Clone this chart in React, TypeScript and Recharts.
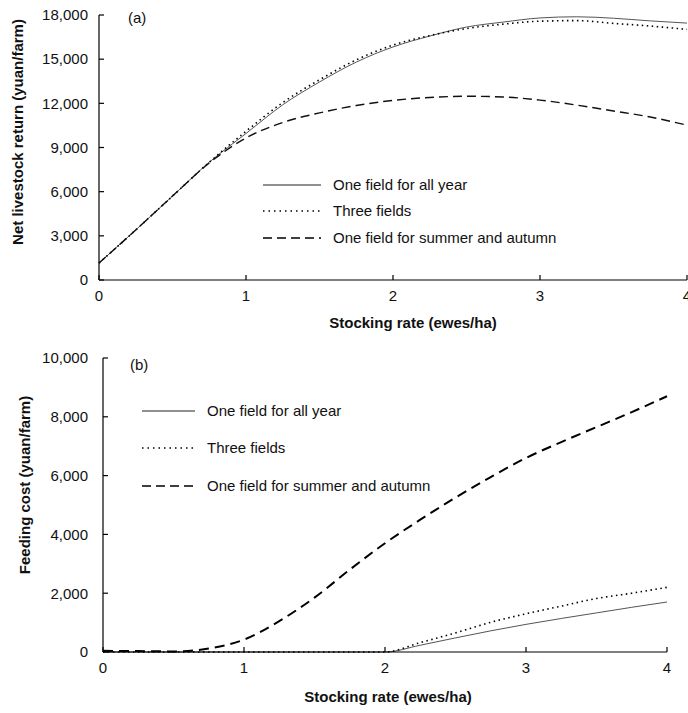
import React from 'react';
import { LineChart, Line, XAxis, YAxis, Legend } from 'recharts';

const FONT = '"Liberation Sans", Arial, sans-serif';

// stocking rate (ewes/ha)
const rates = [0, 0.25, 0.5, 0.75, 1, 1.25, 1.5, 1.75, 2, 2.25, 2.5, 2.75, 3, 3.25, 3.5, 3.75, 4];

// (a) net livestock return, yuan/farm
const returnOneField = [1150, 3400, 5700, 8000, 9950, 11900, 13450, 14800, 15830, 16570, 17180, 17520, 17800, 17880, 17780, 17600, 17450];
const returnThreeFields = [1150, 3400, 5700, 8000, 10100, 12050, 13600, 14950, 15960, 16600, 17080, 17380, 17580, 17620, 17430, 17250, 17020];
const returnSummerAutumn = [1150, 3400, 5700, 7950, 9650, 10700, 11350, 11850, 12200, 12400, 12480, 12430, 12220, 11880, 11480, 11070, 10520];

// (b) feeding cost, yuan/farm
const costOneField = [0, 0, 0, 0, 0, 0, 0, 0, 0, 230, 480, 720, 940, 1140, 1330, 1520, 1700];
const costThreeFields = [0, 0, 0, 0, 0, 0, 0, 0, 0, 320, 650, 1010, 1300, 1560, 1820, 2000, 2200];
const costSummerAutumn = [40, 30, 20, 120, 420, 1050, 1850, 2800, 3700, 4500, 5250, 5950, 6600, 7140, 7650, 8160, 8700];

const returnTicks = [0, 3000, 6000, 9000, 12000, 15000, 18000];
const costTicks = [0, 2000, 4000, 6000, 8000, 10000];
const rateTicks = [0, 1, 2, 3, 4];

const seriesNames = ['One field for all year', 'Three fields', 'One field for summer and autumn'];

const returnRows = rates.map((rate, i) => ({
  rate,
  one: returnOneField[i],
  three: returnThreeFields[i],
  summer: returnSummerAutumn[i],
}));

const costRows = rates.map((rate, i) => ({
  rate,
  one: costOneField[i],
  three: costThreeFields[i],
  summer: costSummerAutumn[i],
}));

const fmt = (v: number) => v.toLocaleString('en-US');

const tickStyle = { fill: '#111', fontSize: 15, fontFamily: FONT };
const axisStroke = { stroke: '#000', strokeWidth: 1.2 };

// line looks for the legend samples
const legendLines = [
  { stroke: '#222', width: 1.2, dash: undefined as string | undefined },
  { stroke: '#000', width: 1.5, dash: '1.5 4' },
  { stroke: '#000', width: 1.5, dash: '9 5' },
];

function PanelOverlay({ panel, panelX, panelY, lineX, lineW, textX, rowYs }: any) {
  return (
    <div style={{ position: 'relative', width: 688, height: 0, fontFamily: FONT, fontSize: 15, color: '#111' }}>
      <div style={{ position: 'absolute', left: panelX, top: panelY - 9, lineHeight: '18px', whiteSpace: 'nowrap' }}>
        {panel}
      </div>
      {seriesNames.map((name, i) => (
        <div
          key={name}
          style={{
            position: 'absolute',
            left: lineX,
            top: rowYs[i] - 9,
            height: 18,
            display: 'flex',
            alignItems: 'center',
            whiteSpace: 'nowrap',
          }}
        >
          <svg width={lineW} height={4} style={{ display: 'block' }}>
            <line
              x1={0}
              y1={2}
              x2={lineW}
              y2={2}
              stroke={legendLines[i].stroke}
              strokeWidth={legendLines[i].width}
              strokeDasharray={legendLines[i].dash}
            />
          </svg>
          <span style={{ marginLeft: textX - lineX - lineW, lineHeight: '18px' }}>{name}</span>
        </div>
      ))}
    </div>
  );
}

const xTitle = (x: number, y: number) => () => (
  <text x={x} y={y} textAnchor="middle" fontFamily={FONT} fontSize={15} fontWeight="bold" fill="#111">
    Stocking rate (ewes/ha)
  </text>
);

const yTitle = (x: number, y: number, value: string) => () => (
  <text
    x={x}
    y={y}
    textAnchor="middle"
    transform={`rotate(-90 ${x} ${y})`}
    fontFamily={FONT}
    fontSize={15}
    fontWeight="bold"
    fill="#111"
  >
    {value}
  </text>
);

function ReturnChart() {
  return (
    <LineChart width={688} height={335} data={returnRows} margin={{ top: 15, right: 1, bottom: 0, left: 39 }}>
      <XAxis
        dataKey="rate"
        type="number"
        domain={[0, 4]}
        ticks={rateTicks}
        interval={0}
        height={55}
        tickSize={-5}
        tickMargin={15}
        axisLine={axisStroke}
        tickLine={axisStroke}
        tick={tickStyle}
        label={xTitle(413, 328)}
      />
      <YAxis
        type="number"
        domain={[0, 18000]}
        ticks={returnTicks}
        interval={0}
        width={60}
        tickSize={-5}
        tickMargin={16}
        tickFormatter={fmt}
        axisLine={axisStroke}
        tickLine={axisStroke}
        tick={tickStyle}
        label={yTitle(23, 132, 'Net livestock return (yuan/farm)')}
      />
      <Legend
        verticalAlign="middle"
        align="center"
        layout="horizontal"
        wrapperStyle={{ left: 0, top: 0, width: 688 }}
        content={() => (
          <PanelOverlay panel="(a)" panelX={128} panelY={18} lineX={263} lineW={58} textX={333} rowYs={[185, 211, 238]} />
        )}
      />
      <Line type="monotone" dataKey="one" name={seriesNames[0]} stroke="#555" strokeWidth={1} dot={false} isAnimationActive={false} />
      <Line type="monotone" dataKey="three" name={seriesNames[1]} stroke="#000" strokeWidth={1.6} strokeDasharray="1.5 3.5" dot={false} isAnimationActive={false} />
      <Line type="monotone" dataKey="summer" name={seriesNames[2]} stroke="#111" strokeWidth={1.4} strokeDasharray="9 5" dot={false} isAnimationActive={false} />
    </LineChart>
  );
}

function CostChart() {
  return (
    <LineChart width={688} height={378} data={costRows} margin={{ top: 23, right: 21, bottom: 0, left: 43 }}>
      <XAxis
        dataKey="rate"
        type="number"
        domain={[0, 4]}
        ticks={rateTicks}
        interval={0}
        height={61}
        tickSize={-5}
        tickMargin={15}
        axisLine={axisStroke}
        tickLine={axisStroke}
        tick={tickStyle}
        label={xTitle(388, 367)}
      />
      <YAxis
        type="number"
        domain={[0, 10000]}
        ticks={costTicks}
        interval={0}
        width={60}
        tickSize={-5}
        tickMargin={20}
        tickFormatter={fmt}
        axisLine={axisStroke}
        tickLine={axisStroke}
        tick={tickStyle}
        label={yTitle(30, 150, 'Feeding cost (yuan/farm)')}
      />
      <Legend
        verticalAlign="middle"
        align="center"
        layout="horizontal"
        wrapperStyle={{ left: 0, top: 0, width: 688 }}
        content={() => (
          <PanelOverlay panel="(b)" panelX={130} panelY={30} lineX={142} lineW={53} textX={207} rowYs={[76, 113, 151]} />
        )}
      />
      <Line type="monotone" dataKey="one" name={seriesNames[0]} stroke="#555" strokeWidth={1} dot={false} isAnimationActive={false} />
      <Line type="monotone" dataKey="three" name={seriesNames[1]} stroke="#000" strokeWidth={1.6} strokeDasharray="1.5 3.5" dot={false} isAnimationActive={false} />
      <Line type="monotone" dataKey="summer" name={seriesNames[2]} stroke="#000" strokeWidth={2} strokeDasharray="10 6" dot={false} isAnimationActive={false} />
    </LineChart>
  );
}

export default function App() {
  return (
    <div style={{ position: 'absolute', left: 0, top: 0, width: 688, height: 713, background: '#fff', overflow: 'hidden' }}>
      <div style={{ position: 'absolute', left: 0, top: 0 }}>
        <ReturnChart />
      </div>
      <div style={{ position: 'absolute', left: 0, top: 335 }}>
        <CostChart />
      </div>
    </div>
  );
}
